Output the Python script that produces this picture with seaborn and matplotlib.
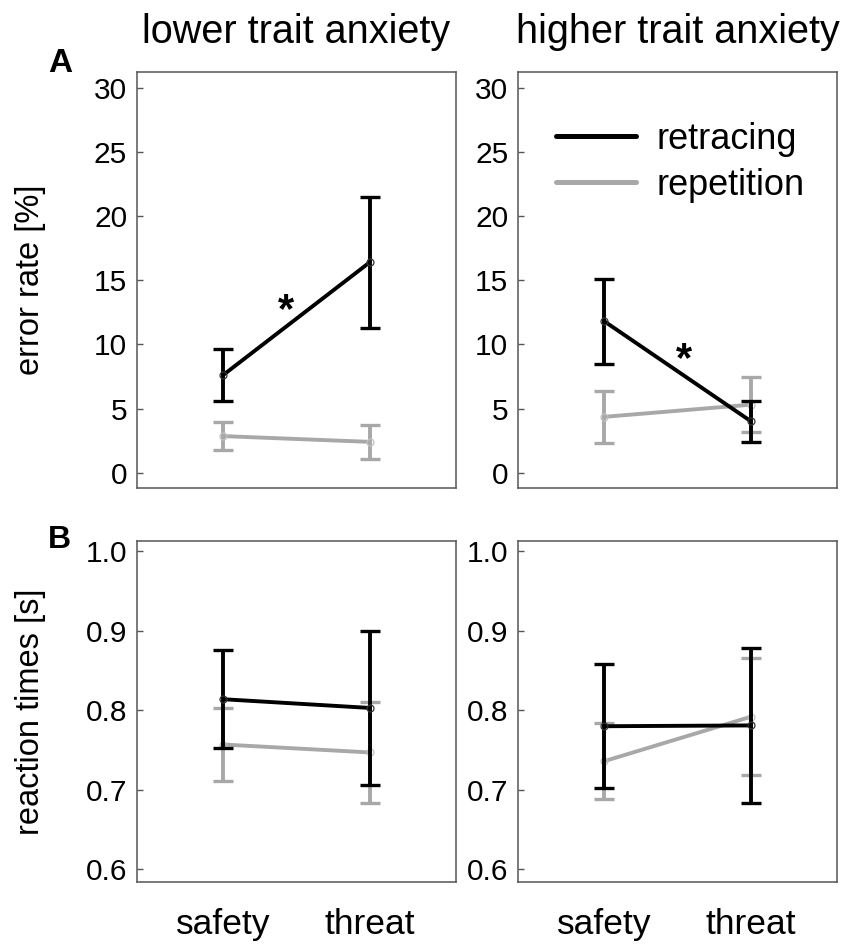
import numpy as np
import pandas as pd
import matplotlib
matplotlib.use("Agg")
import matplotlib.pyplot as plt
from matplotlib.lines import Line2D
from matplotlib.ticker import FormatStrFormatter
import seaborn as sns

# Dados
condicoes = ['safety', 'threat']
grupos = ['lower trait anxiety', 'higher trait anxiety']
tipos = ['retracing', 'repetition']

# taxa de erro [%]
erro_baixa_retracing = [7.6, 16.4]
erro_baixa_retracing_sem = [2.0, 5.1]
erro_baixa_repetition = [2.85, 2.4]
erro_baixa_repetition_sem = [1.1, 1.35]
erro_alta_retracing = [11.8, 4.0]
erro_alta_retracing_sem = [3.3, 1.6]
erro_alta_repetition = [4.35, 5.3]
erro_alta_repetition_sem = [2.0, 2.15]

# tempos de reação [s]
rt_baixa_retracing = [0.814, 0.803]
rt_baixa_retracing_sem = [0.062, 0.097]
rt_baixa_repetition = [0.757, 0.747]
rt_baixa_repetition_sem = [0.046, 0.063]
rt_alta_retracing = [0.780, 0.781]
rt_alta_retracing_sem = [0.078, 0.097]
rt_alta_repetition = [0.736, 0.792]
rt_alta_repetition_sem = [0.048, 0.074]

# asteriscos de significância (posição x entre categorias, y em %)
asterisco_x = [0.43, 0.54]
asterisco_y = [12.6, 8.8]

cores = {'retracing': 'black', 'repetition': '#a8a8a8'}


def montar_tabela():
    linhas = []
    series = {
        ('erro', grupos[0], 'retracing'): (erro_baixa_retracing, erro_baixa_retracing_sem),
        ('erro', grupos[0], 'repetition'): (erro_baixa_repetition, erro_baixa_repetition_sem),
        ('erro', grupos[1], 'retracing'): (erro_alta_retracing, erro_alta_retracing_sem),
        ('erro', grupos[1], 'repetition'): (erro_alta_repetition, erro_alta_repetition_sem),
        ('rt', grupos[0], 'retracing'): (rt_baixa_retracing, rt_baixa_retracing_sem),
        ('rt', grupos[0], 'repetition'): (rt_baixa_repetition, rt_baixa_repetition_sem),
        ('rt', grupos[1], 'retracing'): (rt_alta_retracing, rt_alta_retracing_sem),
        ('rt', grupos[1], 'repetition'): (rt_alta_repetition, rt_alta_repetition_sem),
    }
    for (medida, grupo, tipo), (medias, sems) in series.items():
        for cond, m, s in zip(condicoes, medias, sems):
            linhas.append({'medida': medida, 'grupo': grupo, 'tipo': tipo,
                           'condicao': cond, 'media': m, 'sem': s})
    return pd.DataFrame(linhas)


df = montar_tabela()

sns.set_style('white')
plt.rcParams['font.family'] = ['Liberation Sans', 'DejaVu Sans']
plt.rcParams['text.color'] = 'black'
plt.rcParams['axes.labelcolor'] = 'black'
plt.rcParams['xtick.color'] = 'black'
plt.rcParams['ytick.color'] = 'black'

fig, axes = plt.subplots(2, 2, figsize=(8.5, 9.5), dpi=100,
                         gridspec_kw=dict(height_ratios=[416, 341]))
fig.subplots_adjust(left=0.161, right=0.985, top=0.924, bottom=0.0716,
                    wspace=0.194, hspace=0.14)

for i, medida in enumerate(['erro', 'rt']):
    for j, grupo in enumerate(grupos):
        ax = axes[i, j]
        for tipo in ['repetition', 'retracing']:
            sub = df[(df['medida'] == medida) & (df['grupo'] == grupo) & (df['tipo'] == tipo)]
            ax.errorbar(sub['condicao'], sub['media'], yerr=sub['sem'], fmt='none',
                        ecolor=cores[tipo], elinewidth=2.8, capsize=7.5, capthick=2.4)
            sns.lineplot(data=sub, x='condicao', y='media', color=cores[tipo], ax=ax,
                         linewidth=2.8, marker='o', markersize=5, sort=False)
        for ln in ax.get_lines():
            if ln.get_marker() == 'o':
                ln.set_markerfacecolor('none')
                ln.set_markeredgecolor('#333333' if ln.get_color() == 'black' else '#c0c0c0')
                ln.set_markeredgewidth(0.9)

        ax.set_xlim(-0.587, 1.587)
        if medida == 'erro':
            ax.set_ylim(-1.2, 31.2)
            ax.set_yticks([0, 5, 10, 15, 20, 25, 30])
            ax.set_title(grupo, fontsize=28.5, pad=21, color='black')
            ax.tick_params(axis='x', labelbottom=False, length=0)
        else:
            ax.set_ylim(0.584, 1.013)
            ax.set_yticks([0.6, 0.7, 0.8, 0.9, 1.0])
            ax.yaxis.set_major_formatter(FormatStrFormatter('%.1f'))
            ax.tick_params(axis='x', labelsize=25.5, length=0, pad=19, labelcolor='black')

        ax.tick_params(axis='y', direction='in', length=4, width=1, color='#555555',
                       labelsize=21.5, pad=7, left=True, labelcolor='black')
        ax.set_xlabel('')
        ax.set_ylabel('')
        for sp in ax.spines.values():
            sp.set_color('#555555')
            sp.set_linewidth(1.1)

axes[0, 0].set_ylabel('error rate [%]', fontsize=23.5, color='black')
axes[1, 0].set_ylabel('reaction times [s]', fontsize=23.5, color='black')
axes[0, 0].yaxis.set_label_coords(-0.285, 0.5)
axes[1, 0].yaxis.set_label_coords(-0.285, 0.5)

# asteriscos
for ax, xs, ys in zip(axes[0], asterisco_x, asterisco_y):
    ax.text(xs, ys, '*', fontsize=30, fontweight='bold', ha='center', va='center', color='black')

# legenda
handles = [Line2D([], [], color=cores[t], linewidth=3.6) for t in tipos]
axes[0, 1].legend(handles, tipos, loc='upper left', bbox_to_anchor=(0.12, 0.88),
                  frameon=False, fontsize=26, handlelength=2.2, handletextpad=0.58,
                  labelspacing=0.3, borderpad=0, borderaxespad=0, labelcolor='black')

fig.text(60 / 850, 1 - 64 / 950, 'A', fontsize=24, fontweight='bold', ha='center', va='center')
fig.text(59 / 850, 1 - 540 / 950, 'B', fontsize=23, fontweight='bold', ha='center', va='center')

plt.savefig('out.png', dpi=100)
plt.close()
